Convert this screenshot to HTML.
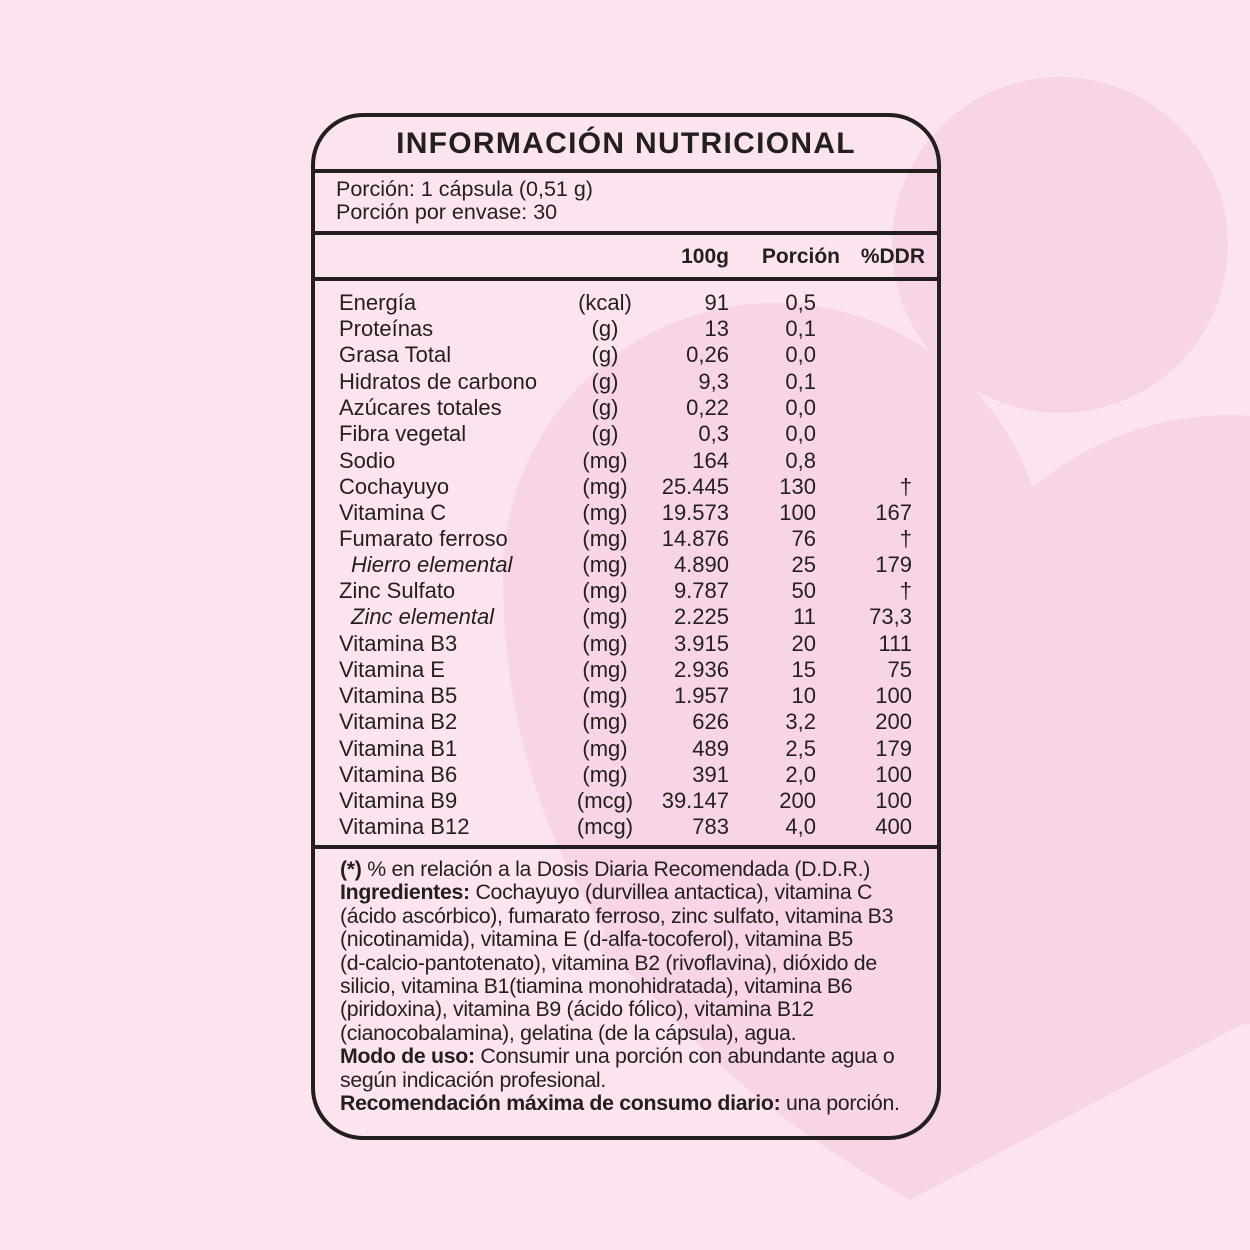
<!DOCTYPE html>
<html><head><meta charset="utf-8"><style>
body{margin:0;width:1250px;height:1250px;background:#fbe3ef;position:relative;overflow:hidden;font-family:"Liberation Sans",sans-serif;color:#231f20}
svg{position:absolute;left:0;top:0}
.box{position:absolute;left:311px;top:113px;width:622px;height:1019px;border:4px solid #231f20;border-radius:52px}
.hl{position:absolute;left:311px;width:630px;height:4px;background:#231f20}
.t{position:absolute;white-space:nowrap}
.row{position:absolute;left:0;width:1250px;height:26px;font-size:22px;line-height:26px}
.row span{position:absolute;white-space:nowrap}
.n{left:339px}.u{left:560px;width:90px;text-align:center}.a{right:521px}.b{right:434px}.c{right:338px}
.f{position:absolute;left:340px;font-size:21.3px;line-height:23.4px;white-space:nowrap;letter-spacing:-0.3px}
</style></head><body>
<svg width="1250" height="1250">
<circle cx="1060" cy="245" r="168" fill="#f7d5e7"/>
<circle cx="775" cy="575" r="272" fill="#f7d5e7"/>
<circle cx="1230" cy="720" r="305" fill="#f7d5e7"/>
<polygon points="700,400 1000,520 1250,600 1250,1020 910,1200 600,950" fill="#f7d5e7"/>
<path d="M503,580 C505,900 700,1080 910,1200 L1250,1020 L1250,700 L700,500 Z" fill="#f7d5e7"/>
</svg>
<div class="box"></div>
<div class="hl" style="top:169px"></div>
<div class="hl" style="top:231px"></div>
<div class="hl" style="top:277px"></div>
<div class="hl" style="top:845px"></div>
<div class="t" style="left:311px;width:630px;text-align:center;top:127px;font-size:30px;font-weight:bold;letter-spacing:1.3px">INFORMACIÓN NUTRICIONAL</div>
<div class="t" style="left:336px;top:178px;font-size:21.5px;line-height:23px">Porción: 1 cápsula (0,51 g)<br>Porción por envase: 30</div>
<div class="row" style="top:244px;font-weight:bold;font-size:21px"><span class="a">100g</span><span class="b" style="right:410px">Porción</span><span class="c" style="right:325px">%DDR</span></div>
<div class="row" style="top:290px"><span class="n">Energía</span><span class="u">(kcal)</span><span class="a">91</span><span class="b">0,5</span></div>
<div class="row" style="top:316px"><span class="n">Proteínas</span><span class="u">(g)</span><span class="a">13</span><span class="b">0,1</span></div>
<div class="row" style="top:342px"><span class="n">Grasa Total</span><span class="u">(g)</span><span class="a">0,26</span><span class="b">0,0</span></div>
<div class="row" style="top:369px"><span class="n">Hidratos de carbono</span><span class="u">(g)</span><span class="a">9,3</span><span class="b">0,1</span></div>
<div class="row" style="top:395px"><span class="n">Azúcares totales</span><span class="u">(g)</span><span class="a">0,22</span><span class="b">0,0</span></div>
<div class="row" style="top:421px"><span class="n">Fibra vegetal</span><span class="u">(g)</span><span class="a">0,3</span><span class="b">0,0</span></div>
<div class="row" style="top:448px"><span class="n">Sodio</span><span class="u">(mg)</span><span class="a">164</span><span class="b">0,8</span></div>
<div class="row" style="top:474px"><span class="n">Cochayuyo</span><span class="u">(mg)</span><span class="a">25.445</span><span class="b">130</span><span class="c">†</span></div>
<div class="row" style="top:500px"><span class="n">Vitamina C</span><span class="u">(mg)</span><span class="a">19.573</span><span class="b">100</span><span class="c">167</span></div>
<div class="row" style="top:526px"><span class="n">Fumarato ferroso</span><span class="u">(mg)</span><span class="a">14.876</span><span class="b">76</span><span class="c">†</span></div>
<div class="row" style="top:552px"><span class="n" style="left:351px;font-style:italic">Hierro elemental</span><span class="u">(mg)</span><span class="a">4.890</span><span class="b">25</span><span class="c">179</span></div>
<div class="row" style="top:578px"><span class="n">Zinc Sulfato</span><span class="u">(mg)</span><span class="a">9.787</span><span class="b">50</span><span class="c">†</span></div>
<div class="row" style="top:604px"><span class="n" style="left:351px;font-style:italic">Zinc elemental</span><span class="u">(mg)</span><span class="a">2.225</span><span class="b">11</span><span class="c">73,3</span></div>
<div class="row" style="top:631px"><span class="n">Vitamina B3</span><span class="u">(mg)</span><span class="a">3.915</span><span class="b">20</span><span class="c">111</span></div>
<div class="row" style="top:657px"><span class="n">Vitamina E</span><span class="u">(mg)</span><span class="a">2.936</span><span class="b">15</span><span class="c">75</span></div>
<div class="row" style="top:683px"><span class="n">Vitamina B5</span><span class="u">(mg)</span><span class="a">1.957</span><span class="b">10</span><span class="c">100</span></div>
<div class="row" style="top:709px"><span class="n">Vitamina B2</span><span class="u">(mg)</span><span class="a">626</span><span class="b">3,2</span><span class="c">200</span></div>
<div class="row" style="top:736px"><span class="n">Vitamina B1</span><span class="u">(mg)</span><span class="a">489</span><span class="b">2,5</span><span class="c">179</span></div>
<div class="row" style="top:762px"><span class="n">Vitamina B6</span><span class="u">(mg)</span><span class="a">391</span><span class="b">2,0</span><span class="c">100</span></div>
<div class="row" style="top:788px"><span class="n">Vitamina B9</span><span class="u">(mcg)</span><span class="a">39.147</span><span class="b">200</span><span class="c">100</span></div>
<div class="row" style="top:814px"><span class="n">Vitamina B12</span><span class="u">(mcg)</span><span class="a">783</span><span class="b">4,0</span><span class="c">400</span></div>
<div class="f" style="top:858px"><b>(*)</b> % en relación a la Dosis Diaria Recomendada (D.D.R.)<br>
<b>Ingredientes:</b> Cochayuyo (durvillea antactica), vitamina C<br>
(ácido ascórbico), fumarato ferroso, zinc sulfato, vitamina B3<br>
(nicotinamida), vitamina E (d-alfa-tocoferol), vitamina B5<br>
(d-calcio-pantotenato), vitamina B2 (rivoflavina), dióxido de<br>
silicio, vitamina B1(tiamina monohidratada), vitamina B6<br>
(piridoxina), vitamina B9 (ácido fólico), vitamina B12<br>
(cianocobalamina), gelatina (de la cápsula), agua.<br>
<b>Modo de uso:</b> Consumir una porción con abundante agua o<br>
según indicación profesional.<br>
<b>Recomendación máxima de consumo diario:</b> una porción.</div>
</body></html>
